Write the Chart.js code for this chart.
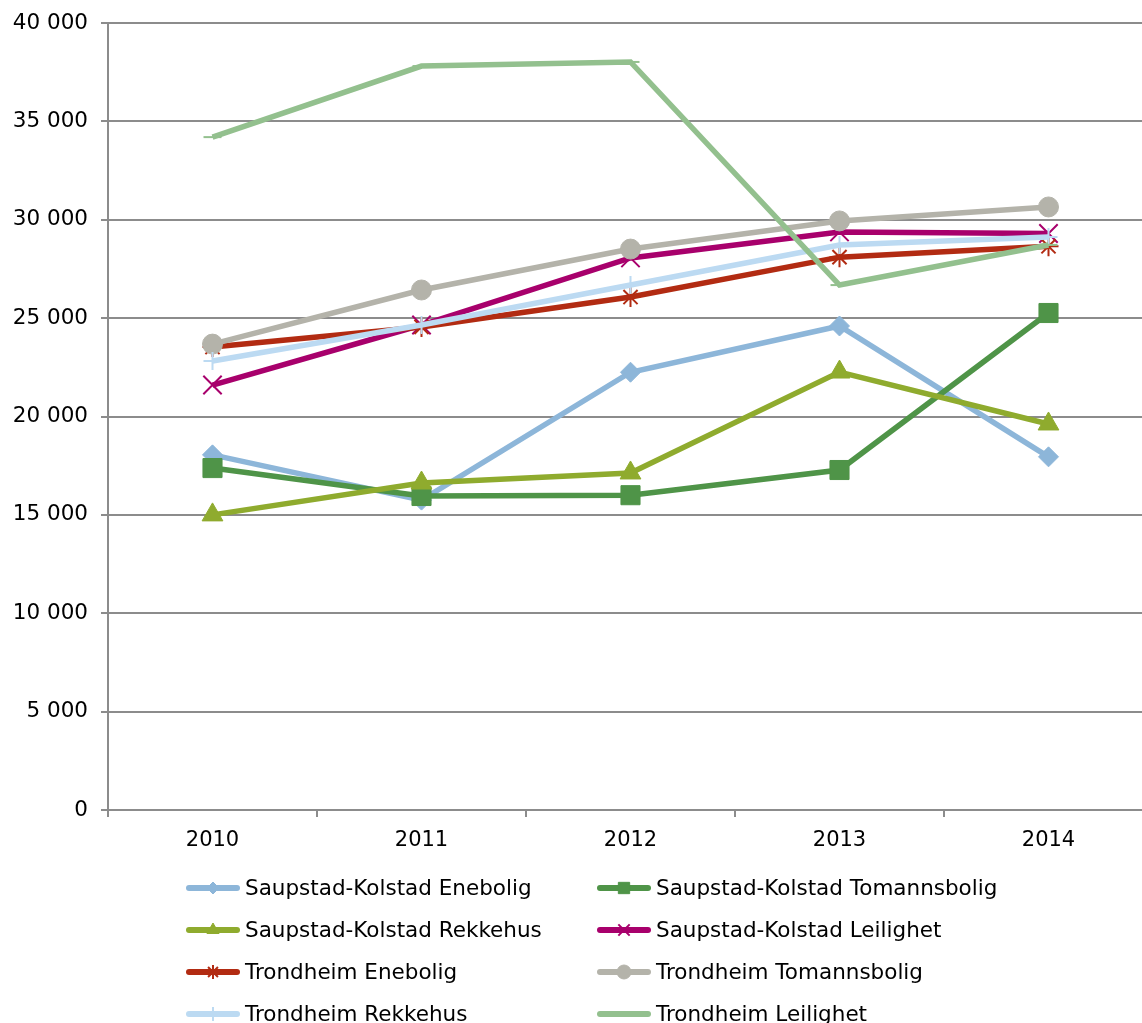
<!DOCTYPE html>
<html>
<head>
<meta charset="utf-8">
<script src="https://cdn.jsdelivr.net/npm/chart.js@4.4.0/dist/chart.umd.min.js"></script>
<style>
  html, body { margin: 0; padding: 0; background: #fff; overflow: hidden; }
  #wrap { width: 1168px; height: 1023px; }
</style>
</head>
<body>
<div id="wrap"><canvas id="chart" width="1168" height="1023"></canvas></div>
<script>
// prices per series, one value per year
const years = ["2010", "2011", "2012", "2013", "2014"];
const skEnebolig = [18050, 15750, 22250, 24600, 17950];
const skTomannsbolig = [17380, 15960, 16000, 17280, 25260];
const skRekkehus = [15000, 16620, 17130, 22260, 19620];
const skLeilighet = [21600, 24650, 28060, 29380, 29300];
const tEnebolig = [23530, 24550, 26070, 28100, 28650];
const tTomannsbolig = [23680, 26430, 28510, 29940, 30650];
const tRekkehus = [22820, 24650, 26680, 28720, 29120];
const tLeilighet = [34200, 37810, 38020, 26680, 28720];

const FONT = "'DejaVu Sans', Verdana, sans-serif";
const GRID = "#8c8c8c";

function series(label, data, color, style, radius, legendRadius, borderWidth) {
  return {
    label: label,
    data: data,
    borderColor: color,
    backgroundColor: color,
    borderWidth: 5.5,
    tension: 0,
    pointStyle: style,
    pointRadius: radius,
    pointHoverRadius: radius,
    pointBackgroundColor: color,
    pointBorderColor: color,
    pointBorderWidth: borderWidth,
    legendRadius: legendRadius
  };
}

const datasets = [
  series("Saupstad-Kolstad Enebolig", skEnebolig, "#8db6d9", "rectRot", 10, 6, 1),
  series("Saupstad-Kolstad Tomannsbolig", skTomannsbolig, "#4f9448", "rect", 13.5, 8, 1),
  series("Saupstad-Kolstad Rekkehus", skRekkehus, "#8fab2e", "triangle", 12, 7, 1),
  series("Saupstad-Kolstad Leilighet", skLeilighet, "#a8006c", "crossRot", 13, 8, 2),
  series("Trondheim Enebolig", tEnebolig, "#b22b12", "star", 10, 7, 2),
  series("Trondheim Tomannsbolig", tTomannsbolig, "#b4b3aa", "circle", 10, 7, 1),
  series("Trondheim Rekkehus", tRekkehus, "#bcdaf2", "cross", 9, 7, 2),
  series("Trondheim Leilighet", tLeilighet, "#93c08e", "line", 9, 7, 2)
];
// later series are drawn on top
datasets.forEach((d, i) => { d.order = datasets.length - i; });

const legendRows = {
  id: "legendRows",
  afterDraw(chart) {
    const ctx = chart.ctx;
    const cols = [186, 597];
    const rowTop = 888, rowStep = 42;
    chart.data.datasets.forEach((ds, i) => {
      const x = cols[i % 2];
      const y = rowTop + Math.floor(i / 2) * rowStep;
      ctx.save();
      ctx.strokeStyle = ds.borderColor;
      ctx.lineWidth = 6;
      ctx.lineCap = "round";
      ctx.beginPath();
      ctx.moveTo(x + 3, y);
      ctx.lineTo(x + 51, y);
      ctx.stroke();
      ctx.lineCap = "butt";
      ctx.fillStyle = ds.pointBackgroundColor;
      ctx.strokeStyle = ds.pointBorderColor;
      ctx.lineWidth = ds.pointBorderWidth;
      Chart.helpers.drawPoint(ctx, {
        pointStyle: ds.pointStyle,
        radius: ds.legendRadius,
        borderWidth: ds.pointBorderWidth,
        rotation: 0
      }, x + 27, y);
      ctx.fillStyle = "#000";
      ctx.font = "21.5px " + FONT;
      ctx.textBaseline = "middle";
      ctx.textAlign = "left";
      ctx.fillText(ds.label, x + 59, y + 1);
      ctx.restore();
    });
  }
};

const fmt = v => String(v).replace(/\B(?=(\d{3})+(?!\d))/g, " ");

new Chart(document.getElementById("chart"), {
  type: "line",
  data: { labels: years, datasets: datasets },
  plugins: [legendRows],
  options: {
    responsive: false,
    animation: false,
    layout: { padding: { top: 23, right: 7, left: 0, bottom: 0 } },
    plugins: {
      legend: { display: false },
      tooltip: { enabled: false }
    },
    scales: {
      x: {
        offset: true,
        grid: {
          offset: true,
          drawOnChartArea: false,
          drawTicks: true,
          tickLength: 7,
          color: GRID,
          lineWidth: 2
        },
        border: { color: GRID, width: 2 },
        ticks: { color: "#000", font: { family: FONT, size: 21 }, padding: 11, maxRotation: 0 },
        afterFit(scale) { scale.height = 213; }
      },
      y: {
        min: 0,
        max: 40000,
        grid: { color: GRID, lineWidth: 2, tickLength: 7 },
        border: { color: GRID, width: 2 },
        ticks: {
          stepSize: 5000,
          color: "#000",
          font: { family: FONT, size: 21.5 },
          padding: 13,
          callback: v => fmt(v)
        },
        afterFit(scale) {
          scale.width = 108;
          scale.paddingTop = 0;
          scale.paddingBottom = 0;
        }
      }
    }
  }
});
</script>
</body>
</html>
